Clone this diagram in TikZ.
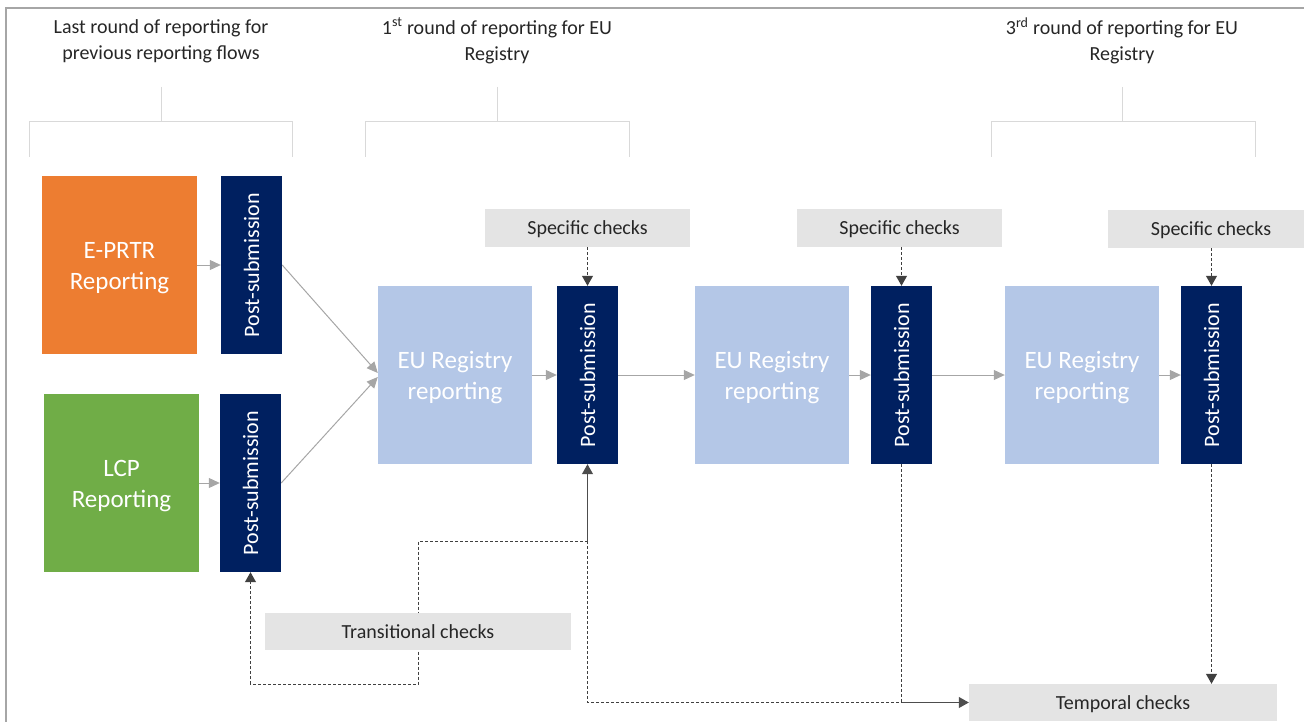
\documentclass[tikz,border=0pt]{standalone}
\usepackage{fontspec}
\setmainfont{Carlito}
\usepackage{graphicx}
\usetikzlibrary{arrows.meta,backgrounds}
\definecolor{navy}{HTML}{002060}
\definecolor{orng}{HTML}{ED7D31}
\definecolor{grn}{HTML}{70AD47}
\definecolor{lblue}{HTML}{B4C7E7}
\definecolor{lgray}{HTML}{E4E4E4}
\definecolor{txt}{HTML}{262626}
\definecolor{arrgray}{HTML}{A6A6A6}
\definecolor{brgray}{HTML}{D9D9D9}
\definecolor{dashcol}{HTML}{404040}
\tikzset{
  repbox/.style={fill=#1, text=white, inner sep=0pt, minimum width=155pt, minimum height=178pt,
    font=\fontsize{25}{31}\selectfont},
  postbox/.style={fill=navy, text=white, inner sep=0pt, minimum width=61pt, minimum height=178pt,
    font=\fontsize{22}{26}\selectfont},
  checkbox/.style={fill=lgray, text=txt, inner sep=0pt, minimum height=38pt,
    font=\fontsize{20}{24}\selectfont},
  header/.style={text=txt, align=center, font=\fontsize{20}{26}\selectfont},
  bracket/.style={draw=brgray, line width=1pt},
  garrow/.style={draw=arrgray, line width=1pt, -{Triangle[width=10pt,length=11pt]}},
  darrow/.style={draw=dashcol, line width=1pt, dash pattern=on 3pt off 2pt, -{Triangle[width=11pt,length=10pt]}},
  dline/.style={draw=dashcol, line width=1pt, dash pattern=on 3pt off 2pt},
  sarrow/.style={draw=dashcol!80!gray, line width=1pt, -{Triangle[width=11pt,length=10pt]}},
}
\newcommand{\postsub}{\rotatebox{90}{Post-submission}}
\newcommand{\twoline}[2]{\raisebox{-3pt}[\height][\depth]{\begin{tabular}{@{}c@{}}#1\\#2\end{tabular}}}
\newcommand{\lowered}[1]{\raisebox{-1.5pt}[\height][\depth]{#1}}
\begin{document}
\begin{tikzpicture}[x=1pt,y=-1pt]
\useasboundingbox (0,0) rectangle (1304,722);
% frame
\draw[arrgray, line width=2pt] (6,722) -- (6,8) -- (1304,8);
% headers
\node[header] (h1) at (161,41) {Last round of reporting for\\previous reporting flows};
\node[header] (h2) at (497,41) {1\textsuperscript{st} round of reporting for EU\\Registry};
\node[header] (h3) at (1122,41) {3\textsuperscript{rd} round of reporting for EU\\Registry};
% brackets
\draw[bracket] (161,87) -- (161,122);
\draw[bracket] (29,157) -- (29,122) -- (292,122) -- (292,157);
\draw[bracket] (497,87) -- (497,122);
\draw[bracket] (365,157) -- (365,122) -- (629,122) -- (629,157);
\draw[bracket] (1122,87) -- (1122,122);
\draw[bracket] (991,157) -- (991,122) -- (1255,122) -- (1255,157);
% boxes
\node[repbox=orng] (eprtr) at (119.5,265) {\twoline{E-PRTR}{Reporting}};
\node[postbox] (post1) at (251.5,265) {\postsub};
\node[repbox=grn] (lcp) at (121.5,483) {\twoline{LCP}{Reporting}};
\node[postbox] (post2) at (250.5,483) {\postsub};
\node[repbox=lblue, minimum width=154pt] (eu1) at (455,375) {\twoline{EU Registry}{reporting}};
\node[postbox] (post3) at (587.5,375) {\postsub};
\node[repbox=lblue, minimum width=154pt] (eu2) at (772,375) {\twoline{EU Registry}{reporting}};
\node[postbox] (post4) at (901.5,375) {\postsub};
\node[repbox=lblue, minimum width=154pt] (eu3) at (1082,375) {\twoline{EU Registry}{reporting}};
\node[postbox] (post5) at (1211.5,375) {\postsub};
\node[checkbox, minimum width=205pt] (spec1) at (587.5,228) {\lowered{Specific checks}};
\node[checkbox, minimum width=205pt] (spec2) at (899.5,228) {\lowered{Specific checks}};
\node[checkbox, minimum width=206pt] (spec3) at (1211,229) {\lowered{Specific checks}};
\node[checkbox, minimum width=306pt, minimum height=37pt] (trans) at (418,631.5) {Transitional checks};
\node[checkbox, minimum width=308pt, minimum height=37pt] (temp) at (1123,702.5) {\lowered{Temporal checks}};
\coordinate (J) at (587.5,541);
\coordinate (tb) at (418,684);
\begin{scope}[on background layer]
% gray flow arrows
\draw[garrow] (eprtr.east) -- (post1.west);
\draw[garrow] (lcp.east) -- (post2.west);
\draw[garrow] (post1.east) -- ([yshift=2pt]eu1.west);
\draw[garrow] (post2.east) -- ([yshift=-2pt]eu1.west);
\draw[garrow] (eu1.east) -- (post3.west);
\draw[garrow] (post3.east) -- (eu2.west);
\draw[garrow] (eu2.east) -- (post4.west);
\draw[garrow] (post4.east) -- (eu3.west);
\draw[garrow] (eu3.east) -- (post5.west);
% specific checks
\draw[darrow] (post3.north |- spec1.south) -- (post3.north);
\draw[darrow] (post4.north |- spec2.south) -- (post4.north);
\draw[darrow] (post5.north |- spec3.south) -- (post5.north);
% transitional loop
\draw[sarrow] (J) -- (post3.south);
\draw[darrow] (J) -| (tb) -| (post2.south);
% temporal
\draw[dline] (J) -- (J |- temp.west) -- (post4.south |- temp.west);
\draw[dline] (post4.south) -- (post4.south |- temp.west);
\draw[sarrow] (post4.south |- temp.west) -- (temp.west);
\draw[darrow] (post5.south) -- (post5.south |- temp.north);
\end{scope}
\end{tikzpicture}
\end{document}
